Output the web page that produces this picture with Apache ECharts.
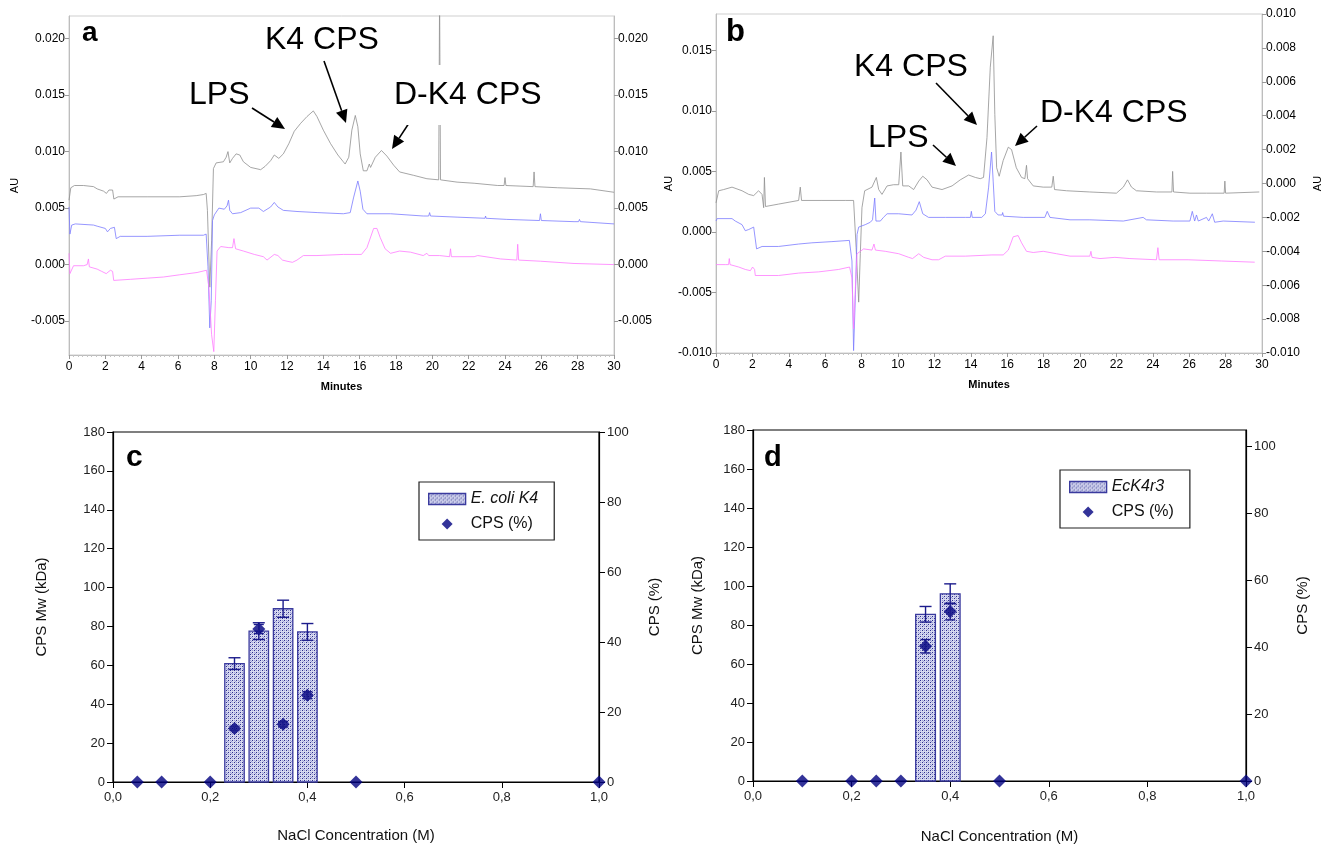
<!DOCTYPE html>
<html>
<head>
<meta charset="utf-8">
<script src="https://cdn.jsdelivr.net/npm/echarts@6/dist/echarts.min.js"></script>
<style>html,body{margin:0;padding:0;background:#fff}#main{width:1333px;height:845px}</style>
</head>
<body>
<div id="main"></div>
<script>
// ---------------- DATA ----------------
// Panel a chromatograms: [minutes, AU]
const aGrey = [[0,0.0057],[0.1,0.0068],[0.3,0.0070],[0.8,0.0070],[1.35,0.0069],[1.55,0.0067],[1.9,0.0065],[2.06,0.0063],[2.2,0.0066],[2.4,0.0066],[2.47,0.0058],[2.7,0.0060],[4.3,0.0060],[6.1,0.0060],[7.0,0.0061],[7.4,0.0062],[7.55,0.0063],[7.62,0.0048],[7.75,-0.0020],[7.85,0.0021],[7.95,0.0085],[8.1,0.0090],[8.5,0.0091],[8.65,0.0095],[8.75,0.0100],[8.85,0.0090],[9.0,0.0094],[9.2,0.0098],[9.4,0.0097],[9.6,0.0091],[10.0,0.0086],[10.55,0.0084],[10.8,0.0087],[11.1,0.0092],[11.3,0.0097],[11.55,0.0094],[11.8,0.0098],[12.1,0.0107],[12.4,0.0118],[12.75,0.0125],[13.1,0.0131],[13.45,0.0136],[13.65,0.0131],[14.0,0.0119],[14.4,0.0107],[14.8,0.0097],[15.1,0.0091],[15.2,0.0089],[15.4,0.0095],[15.57,0.0119],[15.76,0.0132],[15.9,0.0122],[16.03,0.0098],[16.2,0.0083],[16.4,0.0083],[16.53,0.0089],[16.6,0.0086],[16.86,0.0095],[17.2,0.0101],[17.5,0.0096],[17.87,0.0088],[18.2,0.0082],[18.97,0.0079],[19.7,0.0076],[20.35,0.0075],[20.4,0.0240],[20.45,0.0075],[21.36,0.0073],[22.3,0.0072],[23.6,0.0070],[23.95,0.0070],[24.0,0.0077],[24.05,0.0070],[25.55,0.0069],[25.6,0.0082],[25.65,0.0069],[26.9,0.0068],[28.7,0.0067],[30,0.0064]];
const aBlue = [[0,0.0051],[0.05,0.0027],[0.15,0.0035],[0.35,0.0036],[1.35,0.0035],[1.55,0.0034],[2.0,0.0032],[2.12,0.0029],[2.28,0.0032],[2.5,0.0033],[2.6,0.0023],[2.82,0.0025],[4.3,0.0025],[6.1,0.0026],[7.4,0.0026],[7.55,0.0027],[7.65,-0.0002],[7.75,-0.0056],[7.83,-0.0032],[7.9,0.0039],[8.0,0.0044],[8.25,0.0050],[8.55,0.0049],[8.7,0.0052],[8.78,0.0057],[8.85,0.0048],[9.0,0.0045],[9.45,0.0046],[10.0,0.0050],[10.45,0.0050],[10.7,0.0047],[11.1,0.0051],[11.3,0.0055],[11.5,0.0051],[11.8,0.0048],[12.55,0.0047],[13.7,0.0046],[15.1,0.0045],[15.48,0.0046],[15.66,0.0059],[15.9,0.0074],[16.03,0.0065],[16.18,0.0049],[16.4,0.0045],[17.7,0.0045],[19.5,0.0043],[19.8,0.0043],[19.85,0.0046],[19.9,0.0043],[21.36,0.0042],[22.9,0.0041],[22.93,0.0043],[22.96,0.0041],[24.1,0.0040],[25.9,0.0039],[25.95,0.0045],[26.0,0.0039],[27.8,0.0038],[28.05,0.0038],[28.1,0.0040],[28.15,0.0038],[30,0.0036]];
const aPink = [[0,0.0010],[0.05,-0.0008],[0.25,-0.0001],[0.8,-0.0001],[1.0,0.0000],[1.07,0.0005],[1.12,-0.0002],[1.55,-0.0004],[1.8,-0.0006],[2.05,-0.0008],[2.28,-0.0005],[2.4,-0.0006],[2.46,-0.0014],[3.4,-0.0013],[4.3,-0.0012],[5.2,-0.0011],[6.1,-0.0009],[7.05,-0.0007],[7.57,-0.0005],[7.7,-0.0020],[7.85,-0.0062],[7.97,-0.0077],[8.06,-0.0032],[8.15,0.0012],[8.35,0.0016],[8.8,0.0015],[9.0,0.0015],[9.08,0.0023],[9.17,0.0014],[9.6,0.0012],[10.2,0.0009],[10.7,0.0007],[10.9,0.0004],[11.3,0.0009],[11.5,0.0008],[11.75,0.0004],[12.0,0.0003],[12.3,0.0002],[12.55,0.0004],[12.9,0.0008],[13.65,0.0008],[15.1,0.0009],[16.1,0.0009],[16.4,0.0015],[16.77,0.0032],[16.95,0.0032],[17.13,0.0024],[17.4,0.0014],[17.7,0.0010],[18.2,0.0012],[18.8,0.0011],[19.5,0.0008],[19.7,0.0010],[19.8,0.0008],[20.4,0.0008],[20.95,0.0007],[21.0,0.0014],[21.05,0.0007],[22.3,0.0007],[22.5,0.0008],[23.75,0.0005],[24.65,0.0004],[24.7,0.0018],[24.75,0.0004],[25.95,0.0003],[27.8,0.0001],[30,0.0000]];
// Panel b chromatograms
const bGrey = [[0,0.0024],[0.15,0.0034],[0.42,0.0035],[0.88,0.0037],[1.43,0.0034],[1.8,0.0031],[2.07,0.0030],[2.34,0.0034],[2.53,0.0031],[2.62,0.0020],[2.66,0.0045],[2.72,0.0021],[3.44,0.0023],[4.54,0.0026],[4.63,0.0037],[4.7,0.0026],[5.82,0.0026],[7.1,0.0026],[7.56,0.0026],[7.7,-0.0013],[7.84,-0.0058],[7.93,-0.0018],[8.02,0.0020],[8.17,0.0034],[8.57,0.0037],[8.81,0.0045],[8.94,0.0035],[9.12,0.0031],[9.4,0.0038],[9.76,0.0039],[10.04,0.0039],[10.16,0.0066],[10.26,0.0038],[10.59,0.0038],[10.86,0.0035],[11.14,0.0042],[11.36,0.0046],[11.6,0.0043],[11.87,0.0037],[12.42,0.0035],[12.97,0.0038],[13.42,0.0043],[13.88,0.0047],[14.25,0.0045],[14.52,0.0044],[14.7,0.0045],[14.89,0.0078],[15.07,0.0136],[15.23,0.0162],[15.32,0.0097],[15.42,0.0053],[15.56,0.0046],[15.78,0.0059],[16.06,0.0070],[16.24,0.0068],[16.5,0.0053],[16.79,0.0045],[16.97,0.0044],[17.06,0.0055],[17.12,0.0044],[17.43,0.0038],[17.98,0.0037],[18.45,0.0037],[18.53,0.0046],[18.6,0.0035],[19.26,0.0034],[20.54,0.0033],[22.0,0.0032],[22.38,0.0037],[22.61,0.0043],[22.83,0.0037],[23.1,0.0034],[24.2,0.0033],[25.05,0.0033],[25.09,0.0050],[25.14,0.0033],[26.04,0.0032],[26.95,0.0032],[27.92,0.0032],[27.96,0.0042],[28.0,0.0032],[29.85,0.0033]];
const bBlue = [[0,0.0009],[0.06,0.0011],[0.88,0.0011],[1.06,0.0009],[1.43,0.0006],[1.61,0.0001],[1.8,0.0002],[2.07,0.0004],[2.16,0.0004],[2.23,-0.0014],[2.53,-0.0012],[3.44,-0.0012],[4.54,-0.0010],[5.27,-0.0009],[6.37,-0.0008],[7.33,-0.0007],[7.38,-0.0006],[7.47,-0.0024],[7.56,-0.0098],[7.66,-0.0052],[7.75,-0.0002],[7.84,0.0004],[8.2,0.0006],[8.48,0.0008],[8.6,0.0010],[8.72,0.0028],[8.79,0.0009],[9.03,0.0009],[9.2,0.0012],[9.4,0.0015],[10.04,0.0015],[10.77,0.0014],[10.99,0.0018],[11.17,0.0025],[11.36,0.0015],[11.68,0.0012],[12.6,0.0012],[13.7,0.0012],[13.98,0.0012],[14.03,0.0017],[14.08,0.0012],[14.6,0.0012],[14.8,0.0015],[14.98,0.0037],[15.14,0.0066],[15.23,0.0042],[15.32,0.0017],[15.5,0.0014],[15.72,0.0014],[15.75,0.0016],[15.8,0.0013],[16.88,0.0012],[18.07,0.0012],[18.2,0.0017],[18.35,0.0012],[19.45,0.0010],[20.54,0.0010],[22.38,0.0009],[23.47,0.0012],[23.65,0.0010],[25.12,0.0009],[26.04,0.0009],[26.17,0.0017],[26.3,0.0009],[26.4,0.0014],[26.5,0.0009],[26.95,0.0012],[27.07,0.0009],[27.27,0.0015],[27.4,0.0008],[27.87,0.0009],[29.61,0.0008]];
const bPink = [[0,-0.0027],[0.51,-0.0027],[0.69,-0.0027],[0.73,-0.0022],[0.77,-0.0027],[1.25,-0.0029],[1.61,-0.0031],[1.89,-0.0032],[2.01,-0.0029],[2.12,-0.0031],[2.16,-0.0036],[3.44,-0.0036],[4.54,-0.0034],[5.64,-0.0033],[6.74,-0.0031],[7.34,-0.0029],[7.47,-0.0038],[7.56,-0.0080],[7.66,-0.0046],[7.75,-0.0018],[7.93,-0.0016],[8.11,-0.0014],[8.57,-0.0015],[8.68,-0.0010],[8.76,-0.0015],[9.3,-0.0016],[10.04,-0.0018],[10.59,-0.0021],[10.8,-0.0022],[11.14,-0.0018],[11.41,-0.0021],[11.87,-0.0023],[12.23,-0.0023],[12.6,-0.0020],[13.7,-0.0020],[15.16,-0.0019],[15.78,-0.0019],[16.06,-0.0015],[16.33,-0.0004],[16.6,-0.0003],[16.79,-0.0009],[17.06,-0.0016],[17.43,-0.0017],[17.98,-0.0016],[18.71,-0.0018],[19.45,-0.0020],[20.54,-0.0020],[20.6,-0.0016],[20.66,-0.0021],[21.1,-0.0022],[21.92,-0.0021],[22.74,-0.0022],[24.2,-0.0023],[24.28,-0.0013],[24.35,-0.0023],[25.94,-0.0023],[27.77,-0.0024],[29.6,-0.0025]];
// Tick labels
const aTicks = [-0.005, 0, 0.005, 0.010, 0.015, 0.020];
const bLeftTicks = [-0.010, -0.005, 0, 0.005, 0.010, 0.015];
const pctTicksD = [0, 20, 40, 60, 80, 100];
// Panel c
const cConc = [0.25, 0.30, 0.35, 0.40];
const cMw = [60.9, 77.6, 89.1, 77.2];
const cMwErr = [3.0, 4.3, 4.4, 4.3];
const cPctConc = [0.05, 0.10, 0.20, 0.25, 0.30, 0.35, 0.40, 0.50, 1.00];
const cPct = [0, 0, 0, 15.3, 43.7, 16.5, 24.8, 0, 0];
const cPctErr = [0, 0, 0, 0.6, 1.3, 0.8, 1.0, 0, 0];
// Panel d
const dConc = [0.35, 0.40];
const dMw = [85.5, 96.0];
const dMwErr = [4.0, 5.1];
const dPctConc = [0.10, 0.20, 0.25, 0.30, 0.35, 0.40, 0.50, 1.00];
const dPct = [0, 0, 0, 0, 40.3, 50.7, 0, 0];
const dPctErr = [0, 0, 0, 0, 2.0, 2.5, 0, 0];

// ---------------- STYLE ----------------
const FONT = 'Liberation Sans, Arial, Helvetica, sans-serif';
const GREY = '#8f8f8f', BLUE = '#7b7bff', PINK = '#ff7bff', NAVY = '#000080', BARLINE = '#3a3a9e';
const BAR_HALF = 0.02;
const DIAMOND = 'path://M6,0L12,6L6,12L0,6Z';

const pc = document.createElement('canvas');
pc.width = 4; pc.height = 4;
const pctx = pc.getContext('2d');
pctx.fillStyle = '#d7d9ef'; pctx.fillRect(0,0,4,4);
pctx.fillStyle = '#2e2e8e'; pctx.fillRect(0,0,1,1); pctx.fillRect(2,2,1,1);
pctx.fillStyle = '#9a9ed6'; pctx.fillRect(2,0,1,1); pctx.fillRect(0,2,1,1); pctx.fillRect(3,1,1,1);
const PATTERN = {image: pc, repeat: 'repeat'};

const chart = echarts.init(document.getElementById('main'), null, {renderer: 'canvas'});

function trace(data, xi, yi, color) {
  return {type:'line', data, xAxisIndex:xi, yAxisIndex:yi, showSymbol:false, symbol:'none',
    lineStyle:{color, width:0.8}, silent:true, animation:false, clip:true, z:2};
}
function barRender(params, api) {
  const x = api.value(0), y = api.value(1);
  const p0 = api.coord([x - BAR_HALF, y]);
  const p1 = api.coord([x + BAR_HALF, 0]);
  return {type:'rect', shape:{x:p0[0], y:p0[1], width:p1[0]-p0[0], height:p1[1]-p0[1]},
    style:{fill:PATTERN, stroke:BARLINE, lineWidth:1.3}};
}
function errRenderer(cap) {
  return function(params, api) {
    const x = api.value(0), lo = api.value(1), hi = api.value(2);
    if (!(hi > lo)) return null;
    const a = api.coord([x, lo]), b = api.coord([x, hi]);
    const st = {stroke:'#1c1c8c', lineWidth:1.4};
    return {type:'group', children:[
      {type:'line', shape:{x1:a[0], y1:a[1], x2:b[0], y2:b[1]}, style:st},
      {type:'line', shape:{x1:a[0]-cap, y1:a[1], x2:a[0]+cap, y2:a[1]}, style:st},
      {type:'line', shape:{x1:b[0]-cap, y1:b[1], x2:b[0]+cap, y2:b[1]}, style:st}
    ]};
  };
}
function errData(xs, vs, es) { return xs.map((x,i) => [x, vs[i]-es[i], vs[i]+es[i]]); }
function pairs(xs, vs) { return xs.map((x,i) => [x, vs[i]]); }

const fmt3 = v => v.toFixed(3);
const fmtComma = v => v.toFixed(1).replace('.', ',');

function chromX(gi) {
  return {type:'value', gridIndex:gi, min:0, max:30, interval:2,
    name:'Minutes', nameLocation:'middle', nameGap:26,
    nameTextStyle:{fontFamily:FONT, fontSize:11, fontWeight:'bold', color:'#000'},
    axisLine:{onZero:false, lineStyle:{color:'#bdbdbd'}},
    axisTick:{length:4, lineStyle:{color:'#9a9a9a'}},
    minorTick:{show:true, splitNumber:8, length:2, lineStyle:{color:'#c4c4c4'}},
    axisLabel:{fontFamily:FONT, fontSize:12, color:'#000', margin:6},
    splitLine:{show:false}};
}
function chromY(gi, pos, extra) {
  return Object.assign({type:'value', gridIndex:gi, position:pos,
    axisLine:{show:true, onZero:false, lineStyle:{color:'#bdbdbd'}},
    axisTick:{show:true, length:4, lineStyle:{color:'#9a9a9a'}},
    axisLabel:{fontFamily:FONT, fontSize:12, color:'#000', margin:4, formatter:fmt3},
    splitLine:{show:false},
    nameTextStyle:{fontFamily:FONT, fontSize:11, color:'#000'}}, extra);
}
function barX(gi, gap) {
  return {type:'value', gridIndex:gi, min:0, max:1, interval:0.2,
    name:'NaCl Concentration (M)', nameLocation:'middle', nameGap:gap,
    nameTextStyle:{fontFamily:FONT, fontSize:15, color:'#111'},
    axisLine:{onZero:false, lineStyle:{color:'#000', width:1.2}},
    axisTick:{length:6, lineStyle:{color:'#000'}},
    axisLabel:{fontFamily:FONT, fontSize:13, color:'#222', margin:9, formatter:fmtComma},
    splitLine:{show:false}};
}
function barY(gi, pos, extra) {
  return Object.assign({type:'value', gridIndex:gi, position:pos,
    axisLine:{show:true, onZero:false, lineStyle:{color:'#000', width:1.2}},
    axisTick:{show:true, length:6, lineStyle:{color:'#000'}},
    axisLabel:{fontFamily:FONT, fontSize:13, color:'#222', margin:8},
    splitLine:{show:false},
    nameLocation:'middle', nameRotate:90,
    nameTextStyle:{fontFamily:FONT, fontSize:15, color:'#111'}}, extra);
}

function arrow(x1, y1, x2, y2) {
  const ang = Math.atan2(y2 - y1, x2 - x1);
  const L = 13, W = 6;
  const bx = x2 - L * Math.cos(ang), by = y2 - L * Math.sin(ang);
  const nx = -Math.sin(ang), ny = Math.cos(ang);
  return [
    {type:'line', shape:{x1, y1, x2:bx, y2:by}, style:{stroke:'#000', lineWidth:1.6}, z:50},
    {type:'polygon', shape:{points:[[x2,y2],[bx+nx*W, by+ny*W],[bx-nx*W, by-ny*W]]}, style:{fill:'#000'}, z:50}
  ];
}
function label(x, y, text, size, extra) {
  return {type:'text', x, y, z:60, style:Object.assign({text, fontFamily:FONT, fontSize:size, fill:'#000',
    align:'left', verticalAlign:'middle'}, extra || {})};
}
function legendCfg(left, top, italicName) {
  return {left, top, orient:'vertical', selectedMode:false, padding:[9,16,8,9], itemGap:9,
    itemWidth:37, itemHeight:11, borderColor:'#222', borderWidth:1.2, backgroundColor:'#fff',
    textStyle:{fontFamily:FONT, fontSize:16, color:'#111',
      rich:{i:{fontFamily:FONT, fontSize:16, fontStyle:'italic', color:'#111'}}},
    formatter: n => n === italicName ? '{i|' + n + '}' : n,
    data:[{name:italicName, icon:'rect', itemStyle:{color:PATTERN, borderColor:BARLINE, borderWidth:1.3}},
          {name:'CPS (%)', icon:DIAMOND, itemStyle:{color:NAVY}}]};
}

const option = {
  backgroundColor:'#fff',
  animation:false,
  grid:[
    {left:69, top:16, width:545, height:339, show:true, borderColor:'#cfcfcf', borderWidth:1},
    {left:716, top:14, width:546, height:339, show:true, borderColor:'#cfcfcf', borderWidth:1},
    {left:113, top:432, width:486, height:350, show:true, borderColor:'#000', borderWidth:1.2},
    {left:753, top:430, width:493, height:356, show:true, borderColor:'#000', borderWidth:1.2}
  ],
  xAxis:[chromX(0), chromX(1), barX(2, 46), barX(3, 48)],
  yAxis:[
    chromY(0, 'left', {min:-0.008, max:0.022, name:'AU', nameLocation:'middle', nameGap:49,
      axisLabel:{fontFamily:FONT, fontSize:12, color:'#000', margin:4, formatter:fmt3, customValues:aTicks},
      axisTick:{show:true, length:4, lineStyle:{color:'#9a9a9a'}, customValues:aTicks}}),
    chromY(0, 'right', {min:-0.008, max:0.022,
      axisLabel:{fontFamily:FONT, fontSize:12, color:'#000', margin:4, formatter:fmt3, customValues:aTicks},
      axisTick:{show:true, length:4, lineStyle:{color:'#9a9a9a'}, customValues:aTicks}}),
    chromY(1, 'left', {min:-0.010, max:0.018, name:'AU', nameLocation:'middle', nameGap:39,
      axisLabel:{fontFamily:FONT, fontSize:12, color:'#000', margin:4, formatter:fmt3, customValues:bLeftTicks},
      axisTick:{show:true, length:4, lineStyle:{color:'#9a9a9a'}, customValues:bLeftTicks}}),
    chromY(1, 'right', {min:-0.010, max:0.010, interval:0.002, name:'AU', nameLocation:'middle', nameGap:50,
      nameRotate:90}),
    barY(2, 'left', {min:0, max:180, interval:20, name:'CPS Mw (kDa)', nameGap:64}),
    barY(2, 'right', {min:0, max:100, interval:20, name:'CPS (%)', nameGap:48, nameRotate:90}),
    barY(3, 'left', {min:0, max:180, interval:20, name:'CPS Mw (kDa)', nameGap:48}),
    barY(3, 'right', {min:0, max:105, name:'CPS (%)', nameGap:49,
      axisLabel:{fontFamily:FONT, fontSize:13, color:'#222', margin:8, customValues:pctTicksD},
      axisTick:{show:true, length:6, lineStyle:{color:'#000'}, customValues:pctTicksD}})
  ],
  legend:[legendCfg(419, 482, 'E. coli K4'), legendCfg(1060, 470, 'EcK4r3')],
  series:[
    trace(aGrey, 0, 0, GREY), trace(aBlue, 0, 0, BLUE), trace(aPink, 0, 0, PINK),
    trace(bGrey, 1, 2, GREY), trace(bBlue, 1, 2, BLUE), trace(bPink, 1, 2, PINK),
    {type:'custom', name:'E. coli K4', xAxisIndex:2, yAxisIndex:4, renderItem:barRender,
      data:pairs(cConc, cMw), encode:{x:0, y:1}, itemStyle:{color:BARLINE}, z:2},
    {type:'custom', name:'Mw err c', xAxisIndex:2, yAxisIndex:4, renderItem:errRenderer(6),
      data:errData(cConc, cMw, cMwErr), encode:{x:0, y:[1,2]}, z:3},
    {type:'scatter', name:'CPS (%)', xAxisIndex:2, yAxisIndex:5, symbol:'diamond', symbolSize:13,
      itemStyle:{color:NAVY}, data:pairs(cPctConc, cPct), clip:false, z:4},
    {type:'custom', name:'Pct err c', xAxisIndex:2, yAxisIndex:5, renderItem:errRenderer(5),
      data:errData(cPctConc, cPct, cPctErr), encode:{x:0, y:[1,2]}, z:5},
    {type:'custom', name:'EcK4r3', xAxisIndex:3, yAxisIndex:6, renderItem:barRender,
      data:pairs(dConc, dMw), encode:{x:0, y:1}, itemStyle:{color:BARLINE}, z:2},
    {type:'custom', name:'Mw err d', xAxisIndex:3, yAxisIndex:6, renderItem:errRenderer(6),
      data:errData(dConc, dMw, dMwErr), encode:{x:0, y:[1,2]}, z:3},
    {type:'scatter', name:'CPS (%)', xAxisIndex:3, yAxisIndex:7, symbol:'diamond', symbolSize:13,
      itemStyle:{color:NAVY}, data:pairs(dPctConc, dPct), clip:false, z:4},
    {type:'custom', name:'Pct err d', xAxisIndex:3, yAxisIndex:7, renderItem:errRenderer(5),
      data:errData(dPctConc, dPct, dPctErr), encode:{x:0, y:[1,2]}, z:5}
  ],
  graphic:[
    label(82, 33, 'a', 28, {fontWeight:'bold'}),
    label(726, 32, 'b', 31, {fontWeight:'bold'}),
    label(126, 458, 'c', 30, {fontWeight:'bold'}),
    label(764, 458, 'd', 29, {fontWeight:'bold'}),
    label(189, 95, 'LPS', 32),
    label(265, 40, 'K4 CPS', 32),
    label(391, 95, 'D-K4 CPS', 32, {backgroundColor:'#fff', padding:[14,3,14,3]}),
    label(854, 67, 'K4 CPS', 32),
    label(868, 138, 'LPS', 32),
    label(1040, 113, 'D-K4 CPS', 32),
    ...arrow(252, 108, 285, 129),
    ...arrow(324, 61, 346, 123),
    ...arrow(413, 117, 392, 149),
    ...arrow(936, 83, 977, 125),
    ...arrow(933, 145, 956, 166),
    ...arrow(1037, 126, 1015, 146)
  ]
};
chart.setOption(option);
</script>
</body>
</html>
